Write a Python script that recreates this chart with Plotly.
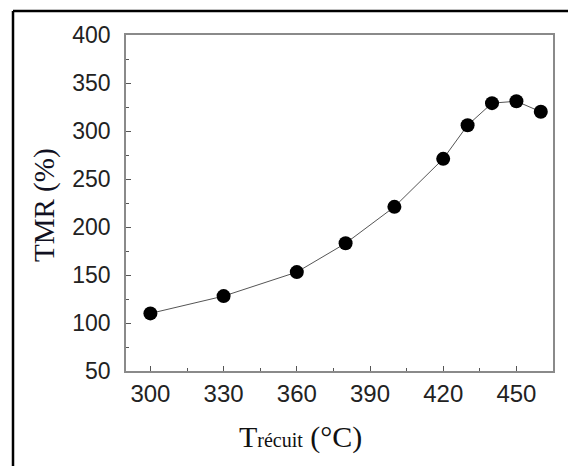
import plotly.graph_objects as go

# Data
temperature = [300, 330, 360, 380, 400, 420, 430, 440, 450, 460]
tmr = [110, 128, 153, 183, 221, 271, 306, 329, 331, 320]

x_ticks = [300, 330, 360, 390, 420, 450]
y_ticks = [50, 100, 150, 200, 250, 300, 350, 400]

W, H = 568, 466
L, R, T, B = 126, 15, 35, 95
pw, ph = W - L - R, H - T - B

def px_x(p):
    return (p - L) / pw

def px_y(p):
    return (H - B - p) / ph

fig = go.Figure()
fig.add_trace(go.Scatter(
    x=temperature, y=tmr, mode="lines+markers",
    line=dict(color="#555555", width=1),
    marker=dict(color="black", size=14, symbol="circle"),
    showlegend=False,
))

axis_common = dict(
    showline=True, linecolor="#8a8a8a", linewidth=1.5, mirror=True,
    ticks="inside", ticklen=5, tickcolor="#555555", tickwidth=1,
    showgrid=False, zeroline=False,
)

fig.update_layout(
    width=W, height=H,
    margin=dict(l=L, r=R, t=T, b=B, pad=0),
    paper_bgcolor="white", plot_bgcolor="white",
    xaxis=dict(range=[290, 465], tickvals=x_ticks, ticklabelstandoff=0,
               tickfont=dict(family="Liberation Sans, Arial", size=24, color="#222222"),
               minor=dict(dtick=15, tick0=300, ticks="inside", ticklen=3, tickcolor="#555555"),
               **axis_common),
    yaxis=dict(range=[50, 400], tickvals=y_ticks, ticklabelstandoff=9,
               tickfont=dict(family="Liberation Sans, Arial", size=23, color="#222222"),
               minor=dict(dtick=25, tick0=50, ticks="inside", ticklen=3, tickcolor="#555555"),
               **axis_common),
    annotations=[
        dict(text="T<span style='font-size:20px'>récuit</span> (°C)",
             xref="paper", yref="paper", x=px_x(300), y=px_y(437),
             xanchor="center", yanchor="middle", showarrow=False,
             font=dict(family="Liberation Serif, Times New Roman", size=30, color="#111111")),
        dict(text="TMR (%)", textangle=-90,
             xref="paper", yref="paper", x=px_x(44), y=px_y(205),
             xanchor="center", yanchor="middle", showarrow=False,
             font=dict(family="Liberation Serif, Times New Roman", size=29, color="#111122")),
    ],
    shapes=[
        dict(type="line", xref="paper", yref="paper",
             x0=px_x(13), x1=px_x(13), y0=px_y(11), y1=px_y(480),
             line=dict(color="black", width=2.5)),
        dict(type="line", xref="paper", yref="paper",
             x0=px_x(13), x1=px_x(600), y0=px_y(11), y1=px_y(11),
             line=dict(color="black", width=2.5)),
    ],
)

fig.write_html("out.html", config={"displayModeBar": False},
               post_script="document.body.style.margin='0';")
